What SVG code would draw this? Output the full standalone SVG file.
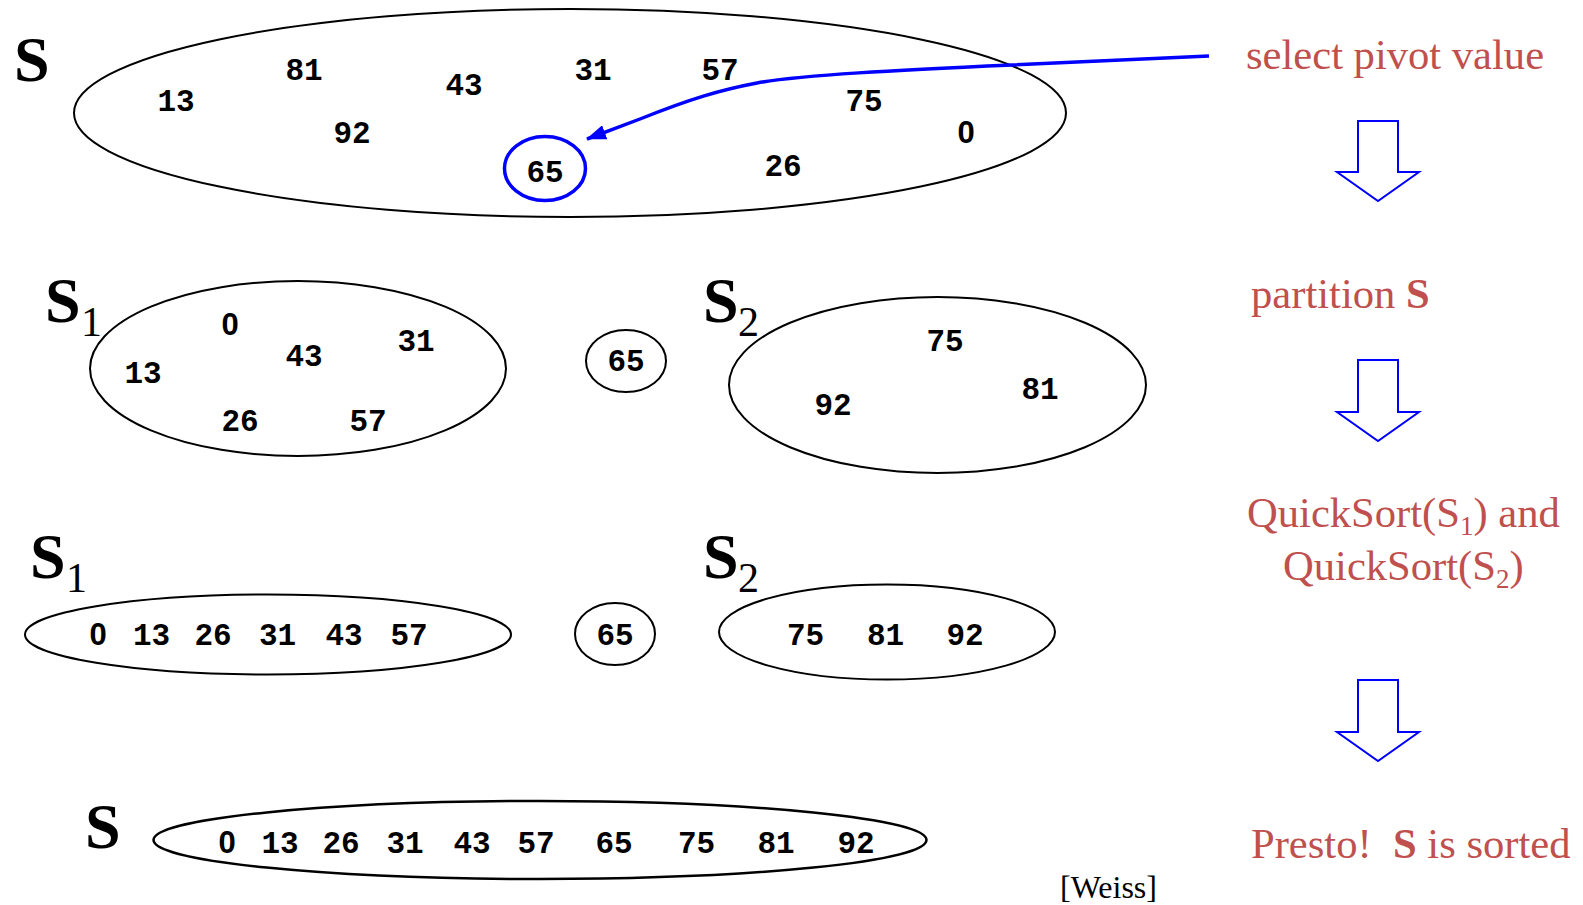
<svg xmlns="http://www.w3.org/2000/svg" width="1583" height="905" viewBox="0 0 1583 905">
<style>
.bg{fill:#fff}
.set{fill:none;stroke:#000;stroke-width:2}
.num{font-family:"Liberation Mono",monospace;font-weight:bold;font-size:31px;fill:#000;text-anchor:middle}
.zero{font-family:"Liberation Sans",sans-serif}
.big{font-family:"Liberation Serif",serif;font-weight:bold;font-size:64px;fill:#000}
.sub{font-family:"Liberation Serif",serif;font-size:42px;fill:#000}
.step{font-family:"Liberation Serif",serif;font-size:42.6px;fill:#c0504d}
.stepsub{font-size:27px}
.hollow{fill:#fff;stroke:#0000ff;stroke-width:2;stroke-linejoin:miter}
.pivot{fill:none;stroke:#0000ff;stroke-width:3.5}
.cite{font-family:"Liberation Serif",serif;font-size:32px;fill:#000}
</style>
<defs>
<marker id="ah" viewBox="0 0 20 15" refX="19" refY="7.5" markerWidth="20" markerHeight="15" markerUnits="userSpaceOnUse" orient="auto">
<path d="M0,0 L20,7.5 L0,15 z" fill="#0000ff"/>
</marker>
</defs>
<rect class="bg" x="0" y="0" width="1583" height="905"/>

<g id="set-S">
<text class="big" x="14" y="81">S</text>
<ellipse class="set" cx="570" cy="113" rx="496" ry="104"/>
<text class="num" x="176" y="111">13</text>
<text class="num" x="304" y="80">81</text>
<text class="num" x="352" y="143">92</text>
<text class="num" x="464" y="95">43</text>
<text class="num" x="593" y="80">31</text>
<text class="num" x="720" y="80">57</text>
<text class="num" x="864" y="111">75</text>
<text class="num zero" x="966" y="143">0</text>
<text class="num" x="783" y="176">26</text>
</g>
<g id="pivot">
<ellipse class="pivot" cx="545" cy="168.5" rx="40.5" ry="32"/>
<text class="num" x="545" y="182">65</text>
</g>

<g id="S1-part">
<text class="big" x="45" y="322">S</text>
<text class="sub" x="81" y="336">1</text>
<ellipse class="set" cx="298" cy="368.5" rx="208" ry="87.5"/>
<text class="num zero" x="230" y="335">0</text>
<text class="num" x="143" y="383">13</text>
<text class="num" x="304" y="366">43</text>
<text class="num" x="416" y="351">31</text>
<text class="num" x="240" y="431">26</text>
<text class="num" x="368" y="431">57</text>
</g>
<g id="pivot-part">
<ellipse class="set" cx="626" cy="361" rx="40" ry="31"/>
<text class="num" x="626" y="371">65</text>
</g>
<g id="S2-part">
<text class="big" x="703" y="322">S</text>
<text class="sub" x="738" y="336">2</text>
<ellipse class="set" cx="937.5" cy="385" rx="208.5" ry="88"/>
<text class="num" x="945" y="351">75</text>
<text class="num" x="833" y="415">92</text>
<text class="num" x="1040" y="399">81</text>
</g>

<g id="S1-sorted">
<text class="big" x="30" y="578">S</text>
<text class="sub" x="66" y="592">1</text>
<ellipse class="set" cx="268" cy="634.5" rx="243" ry="40"/>
<text class="num zero" x="98" y="645">0</text>
<text class="num" x="151.5" y="645">13</text>
<text class="num" x="213" y="645">26</text>
<text class="num" x="277.5" y="645">31</text>
<text class="num" x="344" y="645">43</text>
<text class="num" x="409" y="645">57</text>
</g>
<g id="pivot-sorted">
<ellipse class="set" cx="615" cy="634" rx="40" ry="31"/>
<text class="num" x="615" y="645">65</text>
</g>
<g id="S2-sorted">
<text class="big" x="703" y="578">S</text>
<text class="sub" x="738" y="592">2</text>
<ellipse class="set" cx="887" cy="632" rx="168" ry="47.5"/>
<text class="num" x="805.5" y="645">75</text>
<text class="num" x="885.5" y="645">81</text>
<text class="num" x="965" y="645">92</text>
</g>

<g id="S-sorted">
<text class="big" x="85" y="848">S</text>
<ellipse class="set" cx="540" cy="840" rx="386.5" ry="39" style="stroke-width:2.5"/>
<text class="num zero" x="227" y="853">0</text>
<text class="num" x="280" y="853">13</text>
<text class="num" x="341" y="853">26</text>
<text class="num" x="405" y="853">31</text>
<text class="num" x="472" y="853">43</text>
<text class="num" x="536" y="853">57</text>
<text class="num" x="614" y="853">65</text>
<text class="num" x="696.5" y="853">75</text>
<text class="num" x="776" y="853">81</text>
<text class="num" x="856" y="853">92</text>
</g>

<g id="steps">
<text class="step" x="1246" y="69">select pivot value</text>
<text class="step" x="1251" y="308">partition <tspan font-weight="bold">S</tspan></text>
<text class="step" x="1247" y="527">QuickSort(S<tspan class="stepsub" dy="8">1</tspan><tspan dy="-8">) and</tspan></text>
<text class="step" x="1283" y="580">QuickSort(S<tspan class="stepsub" dy="8">2</tspan><tspan dy="-8">)</tspan></text>
<text class="step" x="1251" y="858" xml:space="preserve">Presto!  <tspan font-weight="bold">S</tspan> is sorted</text>
<text class="cite" x="1060" y="898">[Weiss]</text>
</g>

<g id="connectors">
<path d="M1209,56 L1012,65 C900,70 800,75 757,83 C720,90 690,99 640,119 L587,139" fill="none" stroke="#0000ff" stroke-width="3.5" marker-end="url(#ah)"/>
<path class="hollow" d="M1358,121 L1398,121 L1398,172 L1419,172 L1378,201 L1337,172 L1358,172 Z"/>
<path class="hollow" d="M1358,360 L1398,360 L1398,412 L1419,412 L1378,441 L1337,412 L1358,412 Z"/>
<path class="hollow" d="M1358,680 L1398,680 L1398,732 L1419,732 L1378,761 L1337,732 L1358,732 Z"/>
</g>
</svg>
